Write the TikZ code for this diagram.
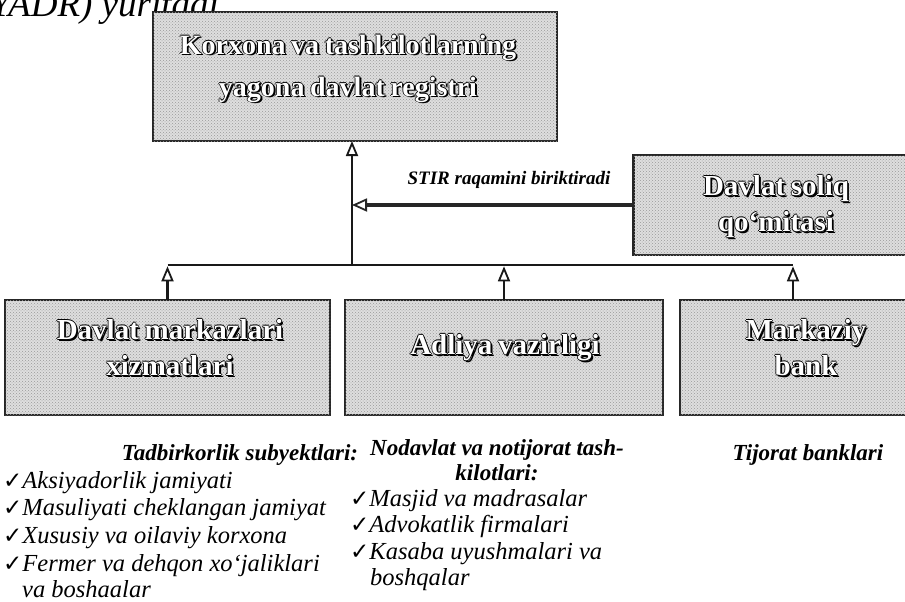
\documentclass[tikz,border=0pt]{standalone}
\usepackage{fontspec}
\setmainfont{Liberation Serif}
\newfontfamily\symfont{DejaVu Sans}
\usetikzlibrary{arrows.meta,patterns}

% white lettering with a dark outline and drop shadow
\newcommand\embossed[1]{\leavevmode\setbox0=\hbox{#1}%
  \rlap{\kern1.8pt\raisebox{-1.8pt}{\color{black}\copy0}}%
  \rlap{\kern-0.8pt\color{black}\copy0}%
  \rlap{\kern0.8pt\color{black}\copy0}%
  \rlap{\raisebox{0.8pt}{\color{black}\copy0}}%
  \rlap{\raisebox{-0.8pt}{\color{black}\copy0}}%
  {\color{white}\copy0}}
\newcommand\tightsp{\spaceskip=0.2em plus 0.05em\relax}
\newcommand\chk{{\symfont\fontsize{23pt}{23pt}\selectfont ✓}}

\begin{document}
\begin{tikzpicture}[x=1pt,y=-1pt,
  box/.style={draw=black!85, line width=2.4pt, fill=black!13,
    postaction={pattern=crosshatch dots, pattern color=black!40},
    inner sep=0pt, outer sep=0pt},
  boxtext/.style={font=\bfseries\fontsize{29pt}{36pt}\selectfont\tightsp, align=center, inner sep=0pt},
  link/.style={line width=2.6pt, draw=black!90},
  uparrow/.style={link, -{Triangle[open, length=15pt, width=12pt, line width=1.8pt]}},
  sidearrow/.style={line width=3.4pt, draw=black!85, -{Triangle[open, length=15pt, width=13pt, line width=1.8pt]}},
  note/.style={font=\itshape\fontsize{24.5pt}{27pt}\selectfont, inner sep=0pt, anchor=base west},
  head/.style={font=\bfseries\itshape\fontsize{23pt}{25pt}\selectfont, inner sep=0pt, align=center}]

\useasboundingbox (0,0) rectangle (905,602);
\clip (0,0) rectangle (905,602);

% running text above the chart
\node[font=\itshape\fontsize{37pt}{37pt}\selectfont, anchor=base west, inner sep=0pt] (intro) at (-10,17) {YADR) yuritadi.};

% boxes
\node[box, minimum width=404pt, minimum height=129pt] (reg) at (355,76.5) {};
\node[box, minimum width=275pt, minimum height=100pt] (dsq) at (771,205) {};
\node[box, minimum width=325pt, minimum height=115pt] (b1) at (167.5,357.5) {};
\node[box, minimum width=318pt, minimum height=115pt] (b2) at (504,357.5) {};
\node[box, minimum width=226pt, minimum height=115pt] (b3) at (793,357.5) {};

% box titles
\node[boxtext, font=\bfseries\fontsize{28pt}{42pt}\selectfont\tightsp] (reg-t) at (348,69) {\embossed{Korxona va tashkilotlarning}\\\embossed{yagona davlat registri}};
\node[boxtext] (dsq-t) at (776,207) {\embossed{Davlat soliq}\\\embossed{qo`mitasi}};
\node[boxtext] (b1-t) at (170,348) {\embossed{Davlat markazlari}\\\embossed{xizmatlari}};
\node[boxtext] (b2-t) at (505,348) {\embossed{Adliya vazirligi}};
\node[boxtext] (b3-t) at (806,348) {\embossed{Markaziy}\\\embossed{bank}};

% connectors
\coordinate (hub) at (352,265);
\draw[uparrow] (hub) -- (reg.south -| hub);
\draw[link] (b1.north |- hub) -- (b3.north |- hub);
\foreach \b in {b1,b2,b3}
  \draw[uparrow, shorten >=1.3pt] (\b.north) -- (\b.north |- hub);
\draw[sidearrow] (dsq.west) -- (dsq.west -| hub);
\node[font=\bfseries\itshape\fontsize{19pt}{19pt}\selectfont, inner sep=0pt] (stir) at (509,180) {STIR raqamini biriktiradi};

% notes under the first box
\node[head] (n1) at (240,455) {Tadbirkorlik subyektlari:};
\node[note] (n1a) at (3,488) {\chk Aksiyadorlik jamiyati};
\node[note] (n1b) at (3,515) {\chk Masuliyati cheklangan jamiyat};
\node[note] (n1c) at (3,543) {\chk Xususiy va oilaviy korxona};
\node[note] (n1d) at (3,571) {\chk Fermer va dehqon xo`jaliklari};
\node[note] (n1e) at (22,597) {va boshaalar};

% notes under the second box
\node[head] (n2) at (497,460) {Nodavlat va notijorat tash-\\kilotlari:};
\node[note] (n2a) at (350,506) {\chk Masjid va madrasalar};
\node[note] (n2b) at (350,532) {\chk Advokatlik firmalari};
\node[note] (n2c) at (350,559) {\chk Kasaba uyushmalari va};
\node[note] (n2d) at (370,585) {boshqalar};

% note under the third box
\node[head] (n3) at (808,455) {Tijorat banklari};
\end{tikzpicture}
\end{document}
